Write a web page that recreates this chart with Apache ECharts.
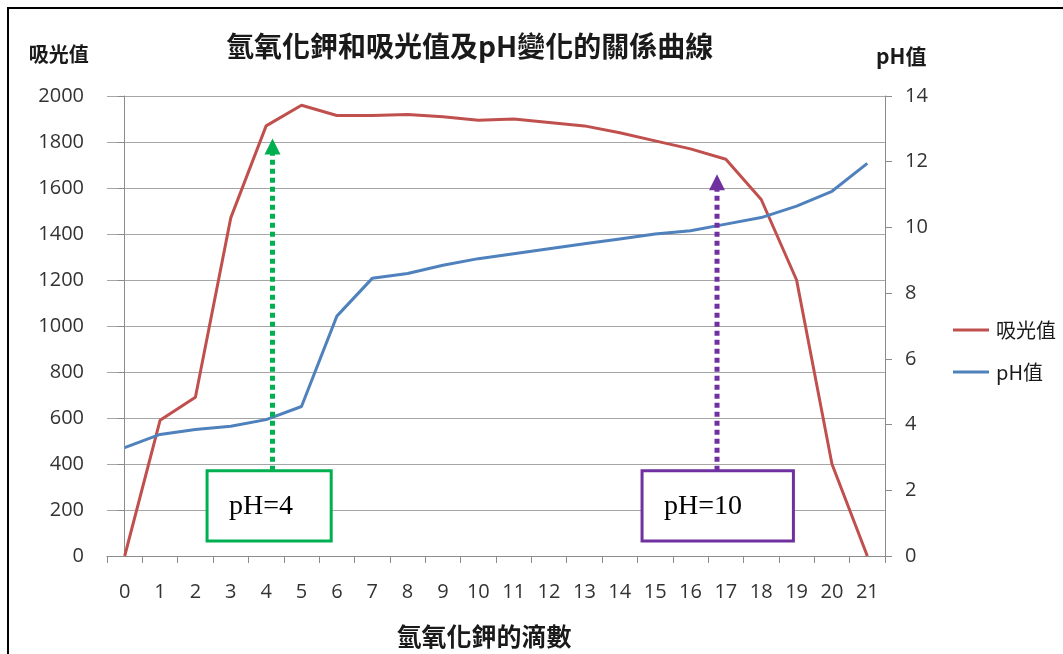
<!DOCTYPE html>
<html><head><meta charset="utf-8">
<script src="https://cdn.jsdelivr.net/npm/echarts@6/dist/echarts.min.js"></script>
<style>html,body{margin:0;padding:0;background:#fff}#c{width:1063px;height:654px}</style>
</head><body><div id="c"></div>
<script>
const categories = ['0','1','2','3','4','5','6','7','8','9','10','11','12','13','14','15','16','17','18','19','20','21'];
const absorbance = [0,590,690,1470,1870,1960,1915,1915,1920,1910,1895,1900,1885,1870,1840,1805,1770,1725,1550,1200,400,0];
const phValues = [3.3,3.7,3.85,3.95,4.15,4.55,7.3,8.45,8.6,8.85,9.05,9.2,9.35,9.5,9.65,9.8,9.9,10.1,10.3,10.65,11.1,11.95];
const leftTicks = [0,2000,200];
const rightTicks = [0,14,2];
const annotLabels = ['pH=4','pH=10'];
const annotColors = ['#00B050','#7030A0'];
const annotArrowX = [4.18, 16.75];
const annotArrowTip = [1815, 1660];
const annotBoxX0 = [2.33, 14.63];
const annotBoxX1 = [5.84, 18.91];
const annotBoxY0 = [65, 65];
const annotBoxY1 = [371, 371];

const FONT = '"Noto Sans CJK TC", "Noto Sans", sans-serif';
const NUMFONT = '"Open Sans", sans-serif';
const annotData = annotLabels.map((l,i)=>[annotArrowX[i], annotArrowTip[i], annotBoxX0[i], annotBoxX1[i], annotBoxY0[i], annotBoxY1[i]]);

const chart = echarts.init(document.getElementById('c'), null, {renderer:'canvas'});
chart.setOption({
  animation:false,
  backgroundColor:'#fff',
  title:{text:'氫氧化鉀和吸光值及pH變化的關係曲線', left:221, top:27,
    textStyle:{fontFamily:FONT, fontSize:28, fontWeight:'bold', color:'#1a1a1a'}},
  grid:{left:107, right:178, top:96, bottom:94, containLabel:false},
  legend:{orient:'vertical', left:948, top:315, icon:'rect', itemWidth:36, itemHeight:3, itemGap:22,
    textStyle:{fontFamily:FONT, fontSize:20, color:'#1a1a1a', padding:[0,0,0,2]},
    data:['吸光值','pH值']},
  graphic:[{type:'rect', shape:{x:8,y:8,width:1100,height:700}, style:{fill:'none', stroke:'#000', lineWidth:2}, silent:true}],
  xAxis:[{
    type:'category', data:categories, boundaryGap:true,
    name:'氫氧化鉀的滴數', nameLocation:'middle', nameGap:68,
    nameTextStyle:{fontFamily:FONT, fontSize:25, fontWeight:'bold', color:'#1a1a1a', padding:[0,24,0,0]},
    axisLine:{lineStyle:{color:'#8c8c8c', width:1}},
    axisTick:{show:true, alignWithLabel:false, length:7, lineStyle:{color:'#8c8c8c'}},
    axisLabel:{fontFamily:NUMFONT, fontSize:20, color:'#333', margin:26},
    splitLine:{show:false}
  },{
    type:'value', min:-0.5, max:21.5, show:false
  }],
  yAxis:[{
    type:'value', min:leftTicks[0], max:leftTicks[1], interval:leftTicks[2],
    name:'吸光值', nameLocation:'end', nameGap:32,
    nameTextStyle:{fontFamily:FONT, fontSize:20, fontWeight:'bold', color:'#1a1a1a', align:'right', padding:[0,36,0,0]},
    axisLine:{show:true, lineStyle:{color:'#8c8c8c'}},
    axisTick:{show:true, length:7, lineStyle:{color:'#8c8c8c'}},
    axisLabel:{fontFamily:NUMFONT, fontSize:20, color:'#333', margin:23, formatter:function(v){return String(v);}},
    splitLine:{show:true, lineStyle:{color:'#a6a6a6', width:1}}
  },{
    type:'value', min:rightTicks[0], max:rightTicks[1], interval:rightTicks[2], position:'right',
    name:'pH值', nameLocation:'end', nameGap:29,
    nameTextStyle:{fontFamily:FONT, fontSize:21, fontWeight:'bold', color:'#1a1a1a', align:'left', padding:[0,0,0,-9]},
    axisLine:{show:true, lineStyle:{color:'#8c8c8c'}},
    axisTick:{show:true, length:7, lineStyle:{color:'#8c8c8c'}},
    axisLabel:{fontFamily:NUMFONT, fontSize:20, color:'#333', margin:20},
    splitLine:{show:false}
  }],
  series:[{
    name:'吸光值', type:'line', data:absorbance, xAxisIndex:0, yAxisIndex:0,
    symbol:'none', showSymbol:false, lineStyle:{color:'#C0504D', width:3}, itemStyle:{color:'#C0504D'}, z:3
  },{
    name:'pH值', type:'line', data:phValues, xAxisIndex:0, yAxisIndex:1,
    symbol:'none', showSymbol:false, lineStyle:{color:'#4F81BD', width:3}, itemStyle:{color:'#4F81BD'}, z:3
  },{
    name:'annot', type:'custom', xAxisIndex:1, yAxisIndex:0, data:annotData, z:5, clip:false,
    renderItem:function(params, api){
      const i = params.dataIndex;
      const col = annotColors[i];
      const tip = api.coord([api.value(0), api.value(1)]);
      const b0 = api.coord([api.value(2), api.value(5)]);
      const b1 = api.coord([api.value(3), api.value(4)]);
      const headH = 16, headW = 16;
      return {type:'group', children:[
        {type:'line', shape:{x1:tip[0], y1:b0[1], x2:tip[0], y2:tip[1]+headH-1},
          style:{stroke:col, lineWidth:5, lineDash:[5,4]}},
        {type:'polygon', shape:{points:[[tip[0],tip[1]],[tip[0]-headW/2,tip[1]+headH],[tip[0]+headW/2,tip[1]+headH]]},
          style:{fill:col}},
        {type:'rect', shape:{x:b0[0], y:b0[1], width:b1[0]-b0[0], height:b1[1]-b0[1]},
          style:{fill:'#fff', stroke:col, lineWidth:3}},
        {type:'text', x:b0[0]+22, y:(b0[1]+b1[1])/2+1,
          style:{text:annotLabels[i], fill:'#000', font:'28px "Liberation Serif", serif', verticalAlign:'middle', align:'left'}}
      ]};
    }
  }]
});
</script></body></html>
